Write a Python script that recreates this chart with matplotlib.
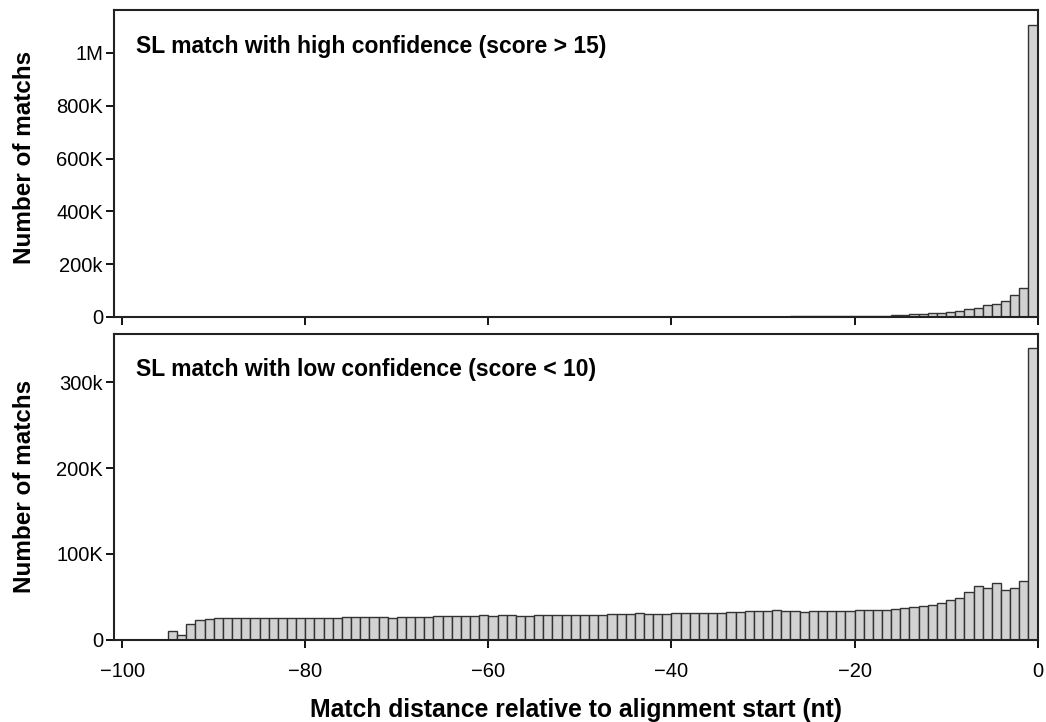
import numpy as np
import matplotlib
matplotlib.use("Agg")
from matplotlib import pyplot as plt

plt.rcParams['font.family'] = ['Liberation Sans', 'DejaVu Sans']

# bin left edges (nt), one bar per nucleotide
dist = np.arange(-95, 0)

# high confidence (score > 15), counts
high = [100, 100, 100, 100, 100, 100, 100, 100, 100, 100,
        100, 100, 100, 100, 100, 100, 100, 100, 100, 100,
        120, 120, 120, 120, 120, 150, 150, 150, 150, 150,
        150, 180, 180, 180, 180, 200, 200, 200, 200, 220,
        220, 250, 250, 250, 280, 280, 300, 300, 320, 350,
        350, 380, 400, 420, 450, 500, 550, 600, 650, 700,
        750, 800, 900, 1000, 1100, 1200, 1400, 1600, 1800, 2000,
        2200, 2500, 2500, 2500, 2500,
        2500, 2500, 3800, 5000, 7600, 6300, 10000, 11400, 13900, 15000,
        19000, 22700, 29000, 35000, 46700, 48000, 59000, 82000, 110000, 1106000]

# low confidence (score < 10), counts
low = [10500, 5400, 18300, 23300, 24500, 24900, 24900, 24900, 24900, 25000,
       25300, 25300, 25300, 25300, 25300, 25500, 25500, 25700, 25700, 26000,
       26100, 26400, 26100, 26800, 25700, 26800, 26400, 26800, 26800, 27600,
       27600, 28000, 28000, 27600, 28400, 28000, 28400, 28400, 28000, 28000,
       28800, 28400, 29200, 29200, 29200, 29200, 29200, 29200, 30000, 30300,
       30000, 30700, 30300, 30300, 30300, 31500, 31500, 31500, 31500, 31500,
       31500, 31900, 31900, 33000, 33800, 33800, 35000, 33500, 33500, 32700,
       33500, 33800, 33800, 33800, 33800,
       34200, 35000, 35000, 35000, 35800, 37000, 37700, 39300, 40800, 42800,
       46300, 49000, 55200, 62600, 60300, 66500, 58000, 59900, 68500, 340000]

high_ticks = [0, 200000, 400000, 600000, 800000, 1000000]
high_labels = ['0', '200k', '400K', '600K', '800K', '1M']
low_ticks = [0, 100000, 200000, 300000]
low_labels = ['0', '100K', '200K', '300k']
x_ticks = [-100, -80, -60, -40, -20, 0]
x_labels = ['\u2212100', '\u221280', '\u221260', '\u221240', '\u221220', '0']

fig = plt.figure(figsize=(10.46, 7.22), dpi=100)
ax1 = fig.add_axes([0.109, 0.561, 0.883, 0.425])
ax2 = fig.add_axes([0.109, 0.114, 0.883, 0.424])

for ax, vals, yt, yl, ymax, title in [
        (ax1, high, high_ticks, high_labels, 1162000, 'SL match with high confidence (score > 15)'),
        (ax2, low, low_ticks, low_labels, 357000, 'SL match with low confidence (score < 10)')]:
    ax.bar(dist, vals, width=1, align='edge', color='#d2d2d2', edgecolor='#333333', linewidth=1.0)
    ax.set_xlim(-100.9, 0)
    ax.set_ylim(0, ymax)
    ax.set_yticks(yt)
    ax.set_yticklabels(yl)
    ax.set_xticks(x_ticks)
    ax.tick_params(direction='out', length=6, width=1.3, labelsize=14.5, colors='black')
    ax.tick_params(axis='y', pad=2)
    ax.tick_params(axis='x', pad=10)
    for s in ax.spines.values():
        s.set_linewidth(1.5)
        s.set_color('#222222')
    ax.set_ylabel('Number of matchs', fontsize=17.5, fontweight='bold')
    ax.text(0.024, 0.882, title, transform=ax.transAxes, ha='left', va='center',
            fontsize=16.5, fontweight='bold')

ax1.set_xticklabels([])
ax2.set_xticklabels(x_labels)
ax2.set_xlabel('Match distance relative to alignment start (nt)', fontsize=17.8,
               fontweight='bold', labelpad=12)
ax1.yaxis.set_label_coords(-0.085, 0.52)
ax2.yaxis.set_label_coords(-0.085, 0.5)

fig.savefig('out.png', dpi=100)
